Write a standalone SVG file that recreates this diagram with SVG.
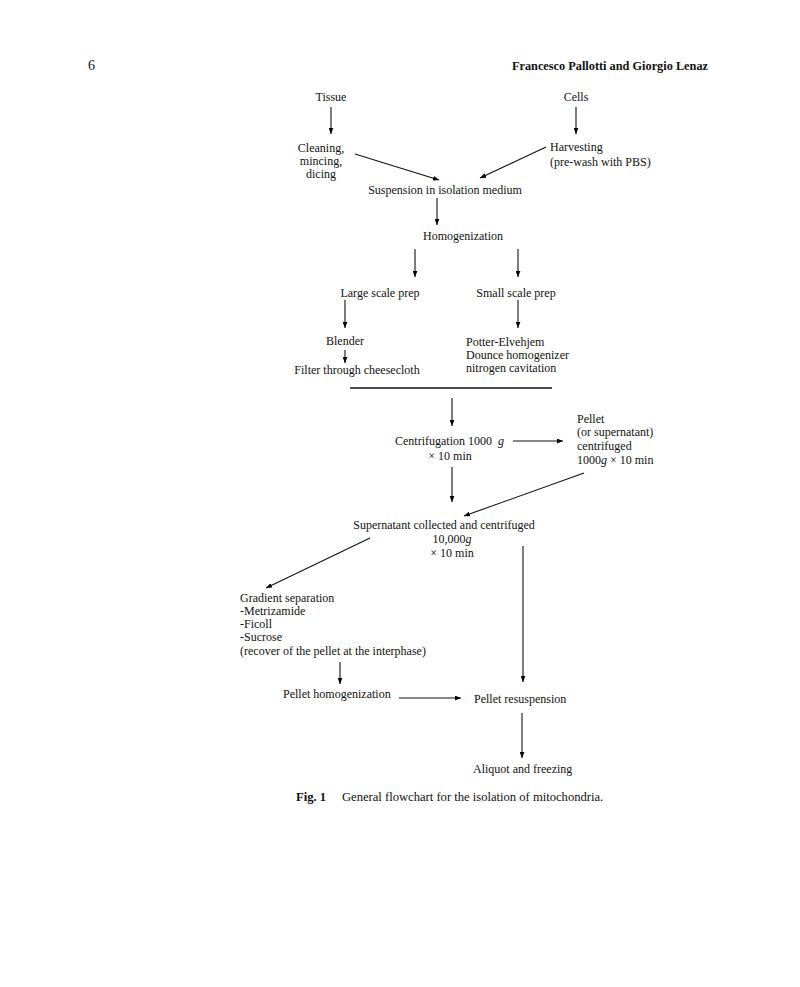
<svg xmlns="http://www.w3.org/2000/svg" width="800" height="987" viewBox="0 0 800 987">
<defs>
<marker id="ah" viewBox="0 0 10 8" refX="10" refY="4" markerWidth="6" markerHeight="5" markerUnits="userSpaceOnUse" orient="auto">
<path d="M0,0 L10,4 L0,8 Z" fill="#000"/>
</marker>
<style>
text{font-family:"Liberation Serif","Times New Roman",serif;font-size:12px;fill:#111}
.hd{font-size:12.3px}
.b{font-weight:bold}
.i{font-style:italic}
.cap{font-size:12.6px}
#connectors line{stroke:#111;stroke-width:1.1;fill:none}
#connectors .a{marker-end:url(#ah)}
</style>
</defs>
<rect width="800" height="987" fill="#fff"/>
<g id="header">
<text x="88" y="70" style="font-size:14px">6</text>
<text class="hd b" x="708" y="70" text-anchor="end">Francesco Pallotti and Giorgio Lenaz</text>
</g>
<g id="tissue"><text x="331" y="101" text-anchor="middle">Tissue</text></g>
<g id="cells"><text x="576" y="101" text-anchor="middle">Cells</text></g>
<g id="cleaning">
<text x="321" y="152" text-anchor="middle">Cleaning,</text>
<text x="321" y="165" text-anchor="middle">mincing,</text>
<text x="321" y="178" text-anchor="middle">dicing</text>
</g>
<g id="harvesting">
<text x="550" y="151">Harvesting</text>
<text x="550" y="166">(pre-wash with PBS)</text>
</g>
<g id="suspension"><text x="445" y="194" text-anchor="middle">Suspension in isolation medium</text></g>
<g id="homogenization"><text x="463" y="240" text-anchor="middle">Homogenization</text></g>
<g id="large"><text x="380" y="297" text-anchor="middle">Large scale prep</text></g>
<g id="small"><text x="516" y="297" text-anchor="middle">Small scale prep</text></g>
<g id="blender"><text x="345" y="345" text-anchor="middle">Blender</text></g>
<g id="filter"><text x="357" y="374" text-anchor="middle">Filter through cheesecloth</text></g>
<g id="potter">
<text x="466" y="346">Potter-Elvehjem</text>
<text x="466" y="359">Dounce homogenizer</text>
<text x="466" y="372">nitrogen cavitation</text>
</g>
<g id="centrifugation">
<text x="492" y="445" text-anchor="end">Centrifugation 1000</text>
<text class="i" x="498" y="445">g</text>
<text x="450" y="460" text-anchor="middle">× 10 min</text>
</g>
<g id="pellet1">
<text x="577" y="423">Pellet</text>
<text x="577" y="436">(or supernatant)</text>
<text x="577" y="450">centrifuged</text>
<text x="577" y="464">1000<tspan class="i">g</tspan> × 10 min</text>
</g>
<g id="supernatant">
<text x="444" y="529" text-anchor="middle">Supernatant collected and centrifuged</text>
<text x="452" y="543" text-anchor="middle">10,000<tspan class="i">g</tspan></text>
<text x="452" y="557" text-anchor="middle">× 10 min</text>
</g>
<g id="gradient">
<text x="240" y="602">Gradient separation</text>
<text x="240" y="615">-Metrizamide</text>
<text x="240" y="628">-Ficoll</text>
<text x="240" y="641">-Sucrose</text>
<text x="240" y="655">(recover of the pellet at the interphase)</text>
</g>
<g id="pellethom"><text x="283" y="698">Pellet homogenization</text></g>
<g id="resuspension"><text x="474" y="703">Pellet resuspension</text></g>
<g id="aliquot"><text x="473" y="773">Aliquot and freezing</text></g>
<g id="connectors">
<line class="a" x1="331" y1="107" x2="331" y2="134"/>
<line class="a" x1="576" y1="107" x2="576" y2="134"/>
<line class="a" x1="355" y1="154" x2="439" y2="180"/>
<line class="a" x1="546" y1="147" x2="480" y2="178"/>
<line class="a" x1="437" y1="198" x2="437" y2="225"/>
<line class="a" x1="415" y1="249" x2="415" y2="277"/>
<line class="a" x1="518" y1="249" x2="518" y2="277"/>
<line class="a" x1="345" y1="300" x2="345" y2="328"/>
<line class="a" x1="518" y1="300" x2="518" y2="328"/>
<line class="a" x1="345" y1="350" x2="345" y2="363"/>
<line x1="350" y1="388" x2="552" y2="388" style="stroke-width:1.5"/>
<line class="a" x1="452" y1="398" x2="452" y2="426"/>
<line class="a" x1="513" y1="441" x2="563" y2="441"/>
<line class="a" x1="452" y1="467" x2="452" y2="502"/>
<line class="a" x1="584" y1="473" x2="464" y2="516"/>
<line class="a" x1="370" y1="538" x2="266" y2="588"/>
<line class="a" x1="523" y1="546" x2="523" y2="682"/>
<line class="a" x1="340" y1="662" x2="340" y2="684"/>
<line class="a" x1="399" y1="698" x2="461" y2="698"/>
<line class="a" x1="522" y1="713" x2="522" y2="758"/>
</g>
<g id="caption">
<text class="cap" x="296" y="801"><tspan class="b">Fig. 1</tspan><tspan x="342">General flowchart for the isolation of mitochondria.</tspan></text>
</g>
</svg>
